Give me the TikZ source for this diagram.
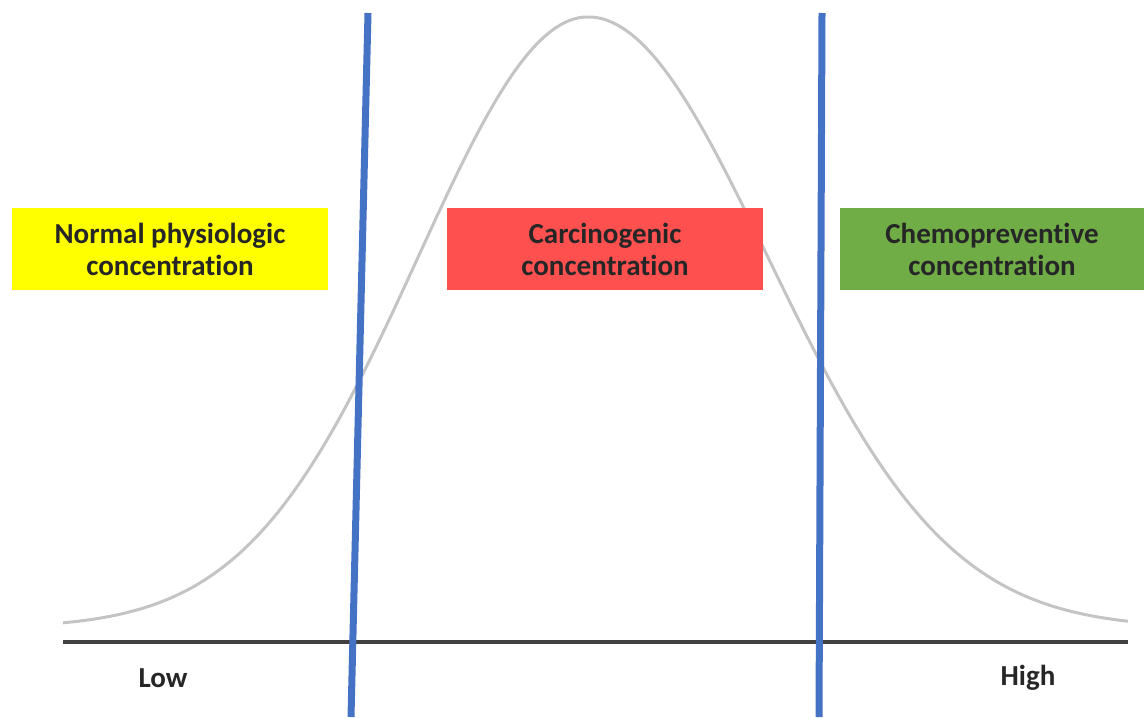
\documentclass[tikz,border=0pt]{standalone}
\usepackage{fontspec}
\setmainfont{Carlito}[Ligatures=NoCommon]
\usetikzlibrary{positioning}
\definecolor{zoneyellow}{HTML}{FFFF00}
\definecolor{zonered}{HTML}{FF5050}
\definecolor{zonegreen}{HTML}{70AD47}
\definecolor{cutblue}{HTML}{4472C4}
\definecolor{curvegray}{HTML}{C4C4C4}
\definecolor{axisgray}{HTML}{404040}

\begin{document}
\begin{tikzpicture}[x=0.5pt,y=-0.5pt,
  zone/.style={minimum height=41pt,inner sep=0pt,align=center,
    font=\fontsize{14.5}{16}\selectfont\bfseries,text=black!85},
  cut/.style={cutblue,line width=3.5pt},
  endlabel/.style={font=\fontsize{14.5}{16}\selectfont\bfseries,text=black!85}]
\useasboundingbox (0,0) rectangle (1144,717);
% bell curve, a bit wider on the right
\draw[curvegray,line width=1.5pt]
  plot[domain=63:588,samples=80,smooth] (\x,{628-611*exp(-0.5*((\x-588)/170)^2)})
  -- plot[domain=588:1128,samples=80,smooth] (\x,{628-611*exp(-0.5*((\x-588)/180)^2)});
% axis
\coordinate (axl) at (63,642);
\coordinate (axr) at (1128,642);
\draw[axisgray,line width=2pt] (axl)--(axr);
% cut lines
\coordinate (c1t) at (368,13);
\coordinate (c1b) at (351,717);
\coordinate (c2t) at (822,13);
\coordinate (c2b) at (819,717);
\draw[cut] (c1t)--(c1b);
\draw[cut] (c2t)--(c2b);
% zones
\node[zone,fill=zoneyellow,minimum width=158pt] (normal) at (170,249) {Normal physiologic\\concentration};
\node[zone,fill=zonered,minimum width=158pt] (carcino) at (605,249) {Carcinogenic\\concentration};
\node[zone,fill=zonegreen,minimum width=152pt] (chemo) at (992,249) {Chemopreventive\\concentration};
% axis ends
\node[endlabel] (low) at (163,678) {Low};
\node[endlabel] (high) at (1028,678) {High};
\end{tikzpicture}
\end{document}
